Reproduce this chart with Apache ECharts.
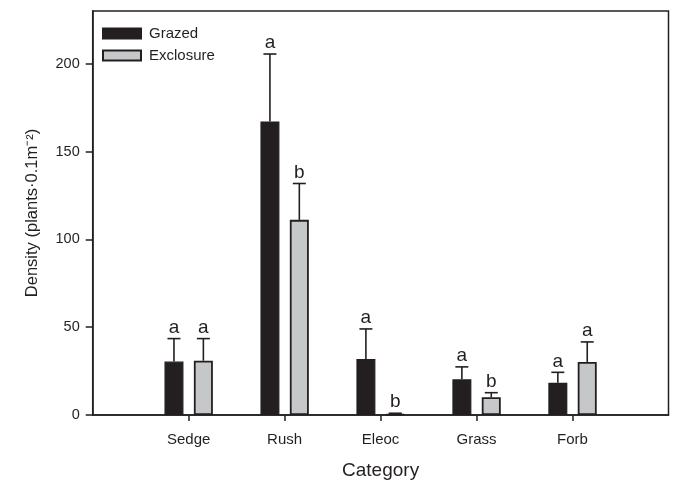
<!DOCTYPE html>
<html>
<head>
<meta charset="utf-8">
<script src="https://cdn.jsdelivr.net/npm/echarts@6/dist/echarts.min.js"></script>
<style>
html,body{margin:0;padding:0;background:#fff;}
#chart{width:673px;height:483px;}
</style>
</head>
<body>
<div id="chart"></div>
<script>
const categories = ['Sedge', 'Rush', 'Eleoc', 'Grass', 'Forb'];
const grazedMean = [30.4, 167.1, 31.9, 20.3, 18.4];
const grazedErr = [13.1, 38.4, 17.1, 7.1, 5.9];
const grazedLetters = ['a', 'a', 'a', 'a', 'a'];
const exclosureMean = [30.9, 111.1, 0.5, 10.1, 30.2];
const exclosureErr = [12.6, 20.7, 0.5, 2.6, 11.4];
const exclosureLetters = ['a', 'b', 'b', 'b', 'a'];
const yTicks = [0, 50, 100, 150, 200];

const INK = '#231f20';
const BAR_W = 19;
const GAP = 10.4;
const OFFSET = (BAR_W + GAP) / 2;
const FONT = 'Liberation Sans, Arial, sans-serif';

function barData(means) {
  return means.map((v, i) => [i + 1, v]);
}
function errData(means, errs, letters) {
  return means.map((v, i) => [i + 1, v, v + errs[i], letters[i]]);
}
function errRender(sign) {
  return function (params, api) {
    const x = api.value(0);
    const lo = api.coord([x, api.value(1)]);
    const hi = api.coord([x, api.value(2)]);
    const px = lo[0] + sign * OFFSET;
    const cap = 6.5;
    return {
      type: 'group',
      children: [
        { type: 'line', shape: { x1: px, y1: lo[1], x2: px, y2: hi[1] },
          style: { stroke: INK, lineWidth: 1.6 } },
        { type: 'line', shape: { x1: px - cap, y1: hi[1], x2: px + cap, y2: hi[1] },
          style: { stroke: INK, lineWidth: 1.6 } },
        { type: 'text', x: px, y: hi[1] - 1.5,
          style: { text: api.value(3), fill: INK, font: '19px ' + FONT,
                   align: 'center', verticalAlign: 'bottom' } }
      ]
    };
  };
}

const chart = echarts.init(document.getElementById('chart'), null, { renderer: 'canvas' });
chart.setOption({
  animation: false,
  backgroundColor: '#fff',
  grid: {
    left: 92.7, right: 4.5, top: 11, bottom: 68,
    outerBoundsMode: 'none', containLabel: false,
    show: true, borderColor: INK, borderWidth: 1.5, backgroundColor: 'transparent'
  },
  legend: {
    orient: 'vertical', left: 97, top: 21,
    icon: 'rect',
    itemWidth: 38, itemHeight: 10, itemGap: 7,
    textStyle: { fontFamily: FONT, fontSize: 15, color: INK, padding: [0, 0, 0, 3] },
    data: ['Grazed', 'Exclosure']
  },
  xAxis: {
    type: 'value', min: 0, max: 6, interval: 1,
    name: 'Category', nameLocation: 'middle', nameGap: 46,
    nameTextStyle: { fontFamily: FONT, fontSize: 19, color: INK },
    axisLine: { show: true, lineStyle: { color: INK, width: 1.5 } },
    axisTick: { show: true, inside: false, length: 6, customValues: [1, 2, 3, 4, 5],
                lineStyle: { color: INK, width: 1.5 } },
    axisLabel: { customValues: [1, 2, 3, 4, 5], margin: 17,
                 formatter: v => categories[v - 1] || '',
                 fontFamily: FONT, fontSize: 15, color: INK },
    splitLine: { show: false }
  },
  yAxis: {
    type: 'value', min: 0, max: 230,
    name: 'Density (plants·0.1m⁻²)', nameLocation: 'middle', nameGap: 52,
    nameTextStyle: { fontFamily: FONT, fontSize: 16.5, color: INK },
    axisLine: { show: true, lineStyle: { color: INK, width: 1.5 } },
    axisTick: { show: true, inside: false, length: 7, customValues: yTicks,
                lineStyle: { color: INK, width: 1.5 } },
    axisLabel: { customValues: yTicks, margin: 13,
                 fontFamily: FONT, fontSize: 14.5, color: INK },
    splitLine: { show: false }
  },
  series: [
    { name: 'Grazed', type: 'bar', data: barData(grazedMean),
      barWidth: BAR_W, barGap: (GAP / BAR_W * 100).toFixed(1) + '%',
      itemStyle: { color: INK, borderColor: INK, borderWidth: 1.2 } },
    { name: 'Exclosure', type: 'bar', data: barData(exclosureMean),
      barWidth: BAR_W,
      itemStyle: { color: '#c6c7c9', borderColor: INK, borderWidth: 1.8 } },
    { type: 'custom', renderItem: errRender(-1), data: errData(grazedMean, grazedErr, grazedLetters),
      encode: { x: 0, y: [1, 2] }, z: 5, silent: true },
    { type: 'custom', renderItem: errRender(1), data: errData(exclosureMean, exclosureErr, exclosureLetters),
      encode: { x: 0, y: [1, 2] }, z: 5, silent: true }
  ]
});
</script>
</body>
</html>
